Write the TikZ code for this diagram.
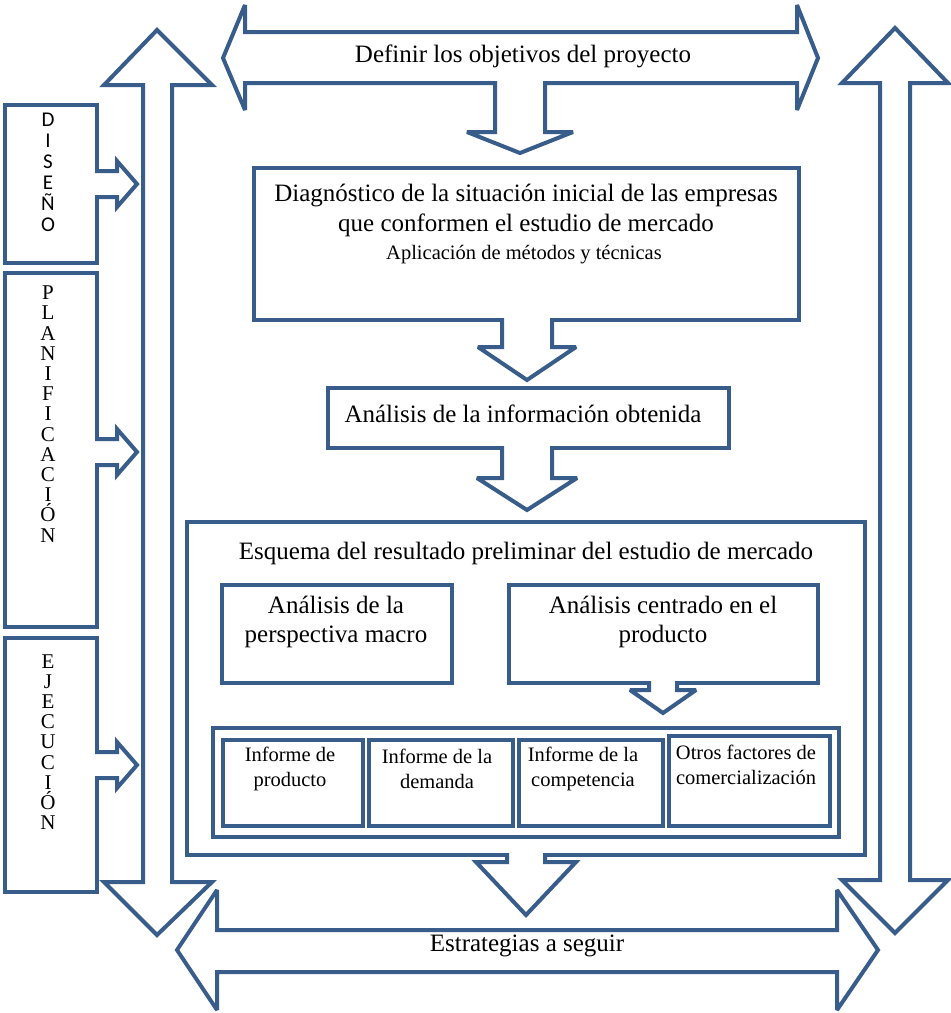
\documentclass[tikz,border=0pt]{standalone}
\usepackage{fontspec}
\setmainfont{Liberation Serif}
\newfontfamily\calibri{Carlito}
\usetikzlibrary{positioning}
\definecolor{frame}{RGB}{56,93,138}
\tikzset{
  box/.style={draw=frame, line width=4pt, fill=white, inner sep=0pt},
  blk/.style={draw=frame, line width=4pt, fill=white, miter limit=3},
  txt/.style={font=\fontsize{25}{30}\selectfont, align=center, inner sep=0pt},
  small/.style={font=\fontsize{20.5}{25}\selectfont, align=center, inner sep=0pt},
  vlet/.style={font=\fontsize{21}{20.2}\selectfont, align=center, inner sep=0pt},
}

\begin{document}
\begin{tikzpicture}[x=1pt,y=-1pt]
\useasboundingbox (0,0) rectangle (951,1013);
% big double arrows round the frame
\draw[blk] (223,58)--(245,5)--(245,32)--(797,32)--(797,5)--(818,58)--(797,110)--(797,83)--(245,83)--(245,110)--cycle;
\draw[blk] (177,950)--(217,890)--(217,930)--(837,930)--(837,890)--(878,950)--(837,1010)--(837,972)--(217,972)--(217,1010)--cycle;
\draw[blk] (157,30)--(212,85)--(172,85)--(172,882)--(212,882)--(157,935)--(104,882)--(143,882)--(143,85)--(104,85)--cycle;
\draw[blk] (895,28)--(948,83)--(910,83)--(910,880)--(948,880)--(895,933)--(842,880)--(880,880)--(880,83)--(842,83)--cycle;
\node[txt] (objetivos) at (523,56) {Definir los objetivos del proyecto};
\node[txt] (estrategias) at (527,946) {Estrategias a seguir};
% stages on the left
\node[box, minimum width=92, minimum height=158] (diseno) at (51,184) {};
\node[box, minimum width=92, minimum height=354] (planif) at (51,450) {};
\node[box, minimum width=92, minimum height=254] (ejec) at (51,765) {};
\node[vlet, font=\calibri\fontsize{21}{21}\selectfont] (disenotxt) at (48,172) {D\\I\\S\\E\\Ñ\\O};
\node[vlet] (planiftxt) at (48,414) {P\\L\\A\\N\\I\\F\\I\\C\\A\\C\\I\\Ó\\N};
\node[vlet] (ejectxt) at (48,742) {E\\J\\E\\C\\U\\C\\I\\Ó\\N};
\foreach \cy in {184,452,765}{
  \fill[white] (95,\cy-13)--(117,\cy-13)--(117,\cy-23)--(137,\cy)--(117,\cy+23)--(117,\cy+13)--(95,\cy+13)--cycle;
  \draw[frame, line width=4pt, miter limit=3] (95,\cy-13)--(117,\cy-13)--(117,\cy-23)--(137,\cy)--(117,\cy+23)--(117,\cy+13)--(95,\cy+13);
}
% main column
\node[box, minimum width=545, minimum height=152] (diag) at (526.5,244) {};
\node[txt] (diagtxt) at (526,210) {Diagnóstico de la situación inicial de las empresas\\que conformen el estudio de mercado};
\node[small, font=\fontsize{20.5}{24}\selectfont] (aplic) at (524,255) {Aplicación de métodos y técnicas};
\node[box, minimum width=401, minimum height=60] (analisis) at (528.5,418) {};
\node[txt] (analisistxt) at (523,414) {Análisis de la información obtenida};
\node[box, minimum width=678, minimum height=333] (esquema) at (526,688.5) {};
\node[txt] (esquematxt) at (526,553) {Esquema del resultado preliminar del estudio de mercado};
\node[box, minimum width=230, minimum height=98] (macro) at (337,634) {};
\node[txt, font=\fontsize{25}{29}\selectfont] (macrotxt) at (336,622) {Análisis de la\\perspectiva macro};
\node[box, minimum width=309, minimum height=98] (producto) at (663.5,634) {};
\node[txt, font=\fontsize{25}{29}\selectfont] (productotxt) at (663,622) {Análisis centrado en el\\producto};
\node[box, minimum width=626, minimum height=109] (informes) at (526,782.5) {};
\node[box, minimum width=140, minimum height=86] (infprod) at (293,783) {};
\node[box, minimum width=144, minimum height=86] (infdem) at (441,783) {};
\node[box, minimum width=144, minimum height=86] (infcomp) at (591,783) {};
\node[box, minimum width=161, minimum height=90] (otros) at (749.5,781) {};
\node[small] (infprodtxt) at (290,769) {Informe de\\producto};
\node[small] (infdemtxt) at (437,769) {Informe de la\\demanda};
\node[small] (infcomptxt) at (583,769) {Informe de la\\competencia};
\node[small] (otrostxt) at (746,765) {Otros factores de\\comercialización};
% block arrows downwards
\foreach \cx/\ya/\yb/\yc/\s/\h in {520/83/132/153/25/53, 527/320/347/380/25/49, 527/448/478/510/25/50, 663/683/690/713/14/33, 526/855/862/915/19/50}{
  \fill[white] (\cx-\s,\ya-3)--(\cx-\s,\yb)--(\cx-\h,\yb)--(\cx,\yc)--(\cx+\h,\yb)--(\cx+\s,\yb)--(\cx+\s,\ya-3)--cycle;
  \draw[frame, line width=4pt, miter limit=3] (\cx-\s,\ya-2)--(\cx-\s,\yb)--(\cx-\h,\yb)--(\cx,\yc)--(\cx+\h,\yb)--(\cx+\s,\yb)--(\cx+\s,\ya-2);
}
\end{tikzpicture}
\end{document}
